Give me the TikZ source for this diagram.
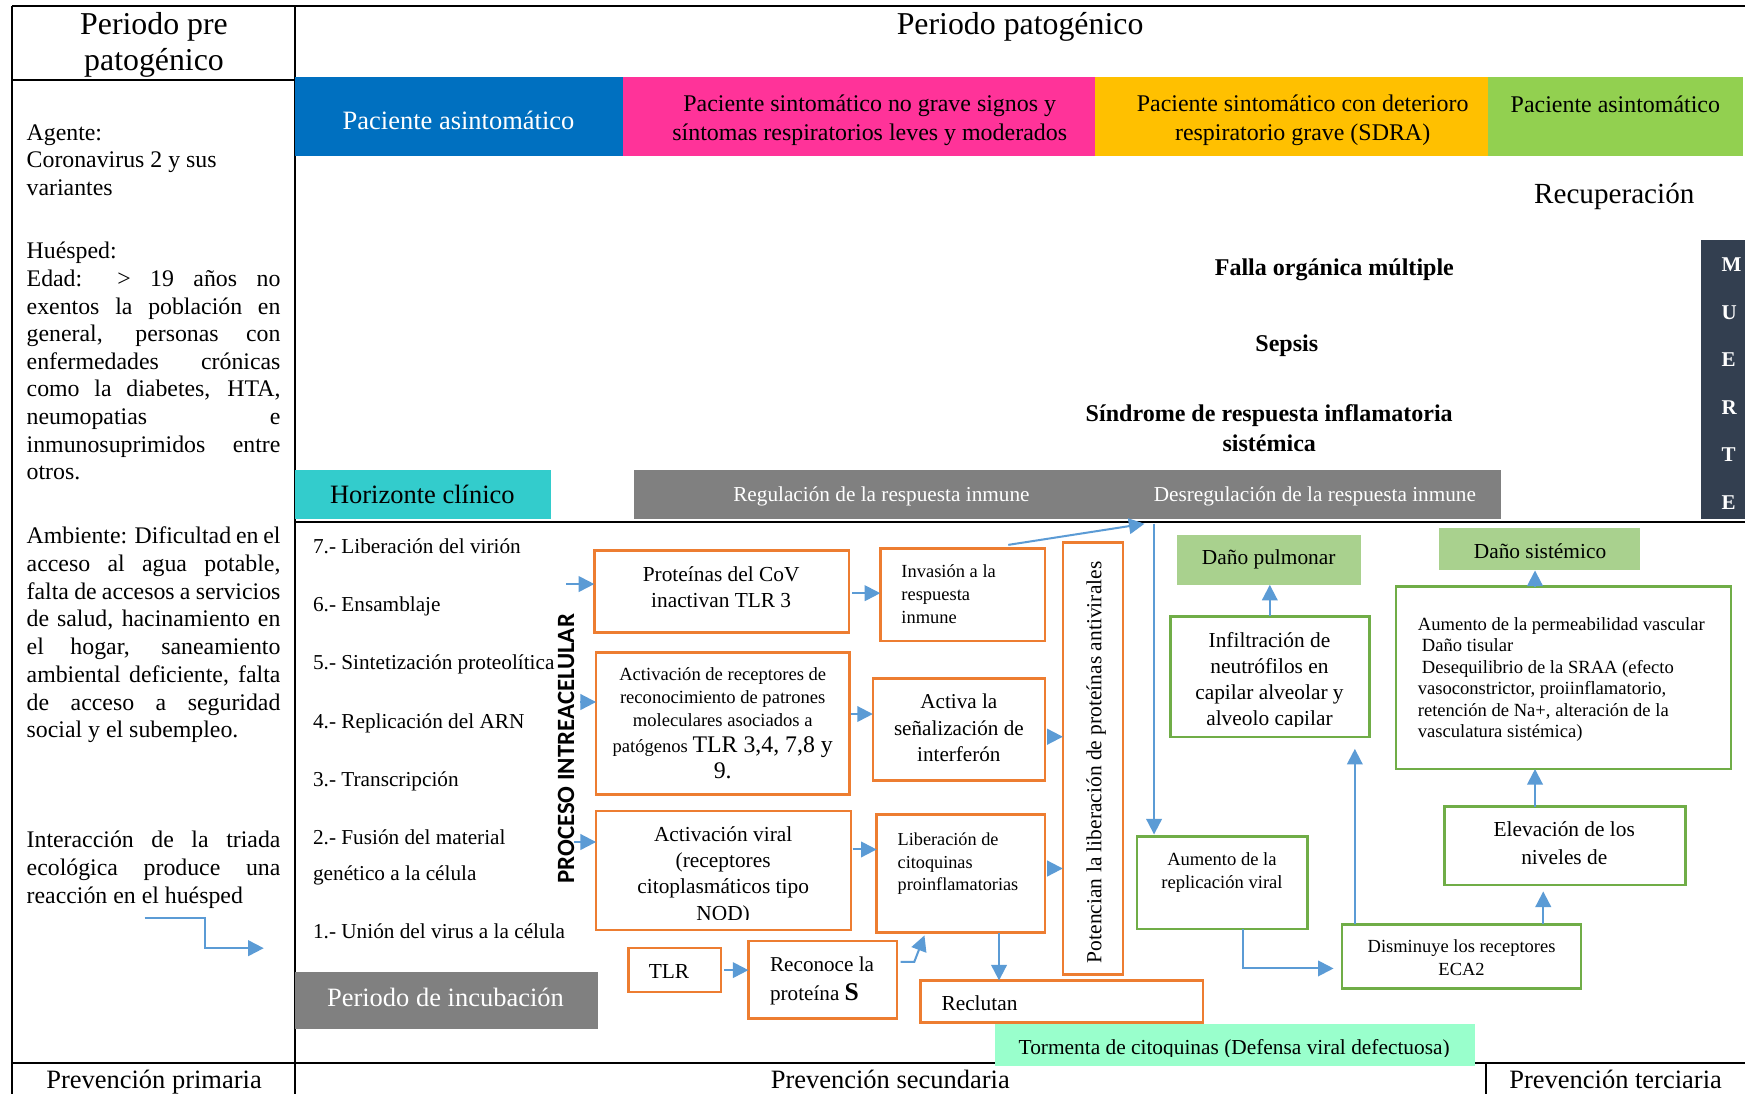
\documentclass[tikz,border=0pt]{standalone}
\usepackage{fontspec}
\setmainfont{Liberation Serif}
\newfontfamily\procfont{Carlito}
\usetikzlibrary{arrows.meta,fit,calc}

\definecolor{cBlue}{HTML}{0070C0}
\definecolor{cPink}{HTML}{FF3399}
\definecolor{cYellow}{HTML}{FFC000}
\definecolor{cGreen}{HTML}{92D050}
\definecolor{cCyan}{HTML}{33CCCC}
\definecolor{cGrey}{HTML}{808080}
\definecolor{cSlate}{HTML}{333F50}
\definecolor{cOrange}{HTML}{ED7D31}
\definecolor{cGreenLine}{HTML}{70AD47}
\definecolor{cGreenFill}{HTML}{A9D18E}
\definecolor{cMint}{HTML}{99FFCC}
\definecolor{cArrow}{HTML}{5B9BD5}

% block of lines: alignment, font size, line pitch, lines
\newcommand\tblk[4]{{\fontsize{#2}{#3}\selectfont\begin{tabular}[t]{@{}#1@{}}#4\end{tabular}}}
\newcommand\sz[1]{\fontsize{#1}{#1}\selectfont}
% justified line of the left column
\newcommand\jl[1]{\makebox[228pt][s]{#1}}

\begin{document}
\begin{tikzpicture}[x=1pt,y=-1pt,
  rule/.style={line width=1.8pt, black},
  band/.style={inner sep=0pt, outer sep=0pt, draw=none},
  obox/.style={draw=cOrange, line width=2.2pt, inner sep=0pt, outer sep=0pt},
  gbox/.style={draw=cGreenLine, line width=2.2pt, inner sep=0pt, outer sep=0pt},
  lbl/.style={inner sep=0pt, outer sep=0pt},
  arr/.style={draw=cArrow, line width=1.8pt, -{Triangle[length=14pt,width=14pt]}},
]
\useasboundingbox (0,0) rectangle (1568,983);
\fill[white] (0,0) rectangle (1568,983);

% ---------- table rules ----------
\draw[rule] (11,5) -- (1568,5);
\draw[rule] (11,5) -- (11,983);
\draw[rule] (265,5) -- (265,983);
\draw[rule] (11,72) -- (265,72);
\draw[rule] (265,469) -- (1568,469);
\draw[rule] (11,955.5) -- (1568,955.5);
\draw[rule] (1335,955.5) -- (1335,983);

% ---------- headers ----------
\node[lbl, anchor=base] (hPre) at (138.4,30.9) {\tblk{c}{28.6}{32.5}{Periodo pre\\patogénico}};
\node[lbl, anchor=base] (hPat) at (916.6,30.9) {\sz{28.6}Periodo patogénico};

% ---------- coloured stage bands ----------
\node[band, fill=cBlue, fit={(265,69.3) (559.7,139.9)}] (bBlue) {};
\node[band, fill=cPink, fit={(559.7,69.3) (984,139.9)}] (bPink) {};
\node[band, fill=cYellow, fit={(984,69.3) (1336.7,139.9)}] (bYellow) {};
\node[band, fill=cGreen, fit={(1336.7,69.3) (1566,139.9)}] (bGreen) {};
\node[lbl, anchor=base, text=white] (tBlue) at (412,116) {\sz{23.8}Paciente asintomático};
\node[lbl, anchor=base] (tPink) at (781.5,100.6) {\tblk{c}{21.5}{25.6}{Paciente sintomático no grave signos y\\síntomas respiratorios leves y moderados}};
\node[lbl, anchor=base] (tYellow) at (1170.5,100.6) {\tblk{c}{21.5}{25.6}{Paciente sintomático con deterioro\\respiratorio grave (SDRA)}};
\node[lbl, anchor=base] (tGreen) at (1451.5,101.5) {\sz{21.5}Paciente asintomático};

% ---------- outcomes ----------
\node[lbl, anchor=base] (rec) at (1450.5,183.2) {\sz{26.2}Recuperación};
\node[lbl, anchor=base] (falla) at (1199,247.5) {\sz{21.6}\bfseries Falla orgánica múltiple};
\node[lbl, anchor=base] (sepsis) at (1156.3,315.6) {\sz{21.6}\bfseries Sepsis};
\node[lbl, anchor=base] (sirs) at (1140.5,379) {\bfseries\tblk{c}{21.6}{27}{Síndrome de respuesta inflamatoria\\sistémica}};
\node[band, fill=cSlate, fit={(1528,215.7) (1568,466.6)}] (muerte) {};
\node[lbl, anchor=base west, text=white] (muerteT) at (1547,244.4) {\bfseries\tblk{l}{18.9}{42.6}{M\\U\\E\\R\\T\\E}};

% ---------- horizon band ----------
\node[band, fill=cCyan, fit={(265,422) (495,466.6)}] (horiz) {};
\node[lbl, anchor=base] (horizT) at (379.5,452.4) {\sz{23.8}Horizonte clínico};
\node[band, fill=cGrey, fit={(569.7,422) (1348.5,466.6)}] (regul) {};
\node[lbl, anchor=base, text=white] (regT) at (792,450.2) {\sz{19.1}Regulación de la respuesta inmune};
\node[lbl, anchor=base, text=white] (desT) at (1181.5,450.2) {\sz{19.1}Desregulación de la respuesta inmune};

% ---------- left column: ecological triad ----------
\node[lbl, anchor=base west] (agente) at (24,126.2) {\tblk{l}{21.4}{24.6}{Agente:\\Coronavirus 2 y sus\\variantes}};
\node[lbl, anchor=base west] (huesped) at (24,232.7) {\tblk{l}{21.4}{24.8}{Huésped:\\
\jl{Edad: > 19 años no}\\
\jl{exentos la población en}\\
\jl{general, personas con}\\
\jl{enfermedades crónicas}\\
\jl{como la diabetes, HTA,}\\
\jl{neumopatias e}\\
\jl{inmunosuprimidos entre}\\
otros.}};
\node[lbl, anchor=base west] (ambiente) at (24,488.6) {\tblk{l}{21.4}{24.9}{%
\jl{Ambiente: Dificultad en el}\\
\jl{acceso al agua potable,}\\
\jl{falta de accesos a servicios}\\
\jl{de salud, hacinamiento en}\\
\jl{el hogar, saneamiento}\\
\jl{ambiental deficiente, falta}\\
\jl{de acceso a seguridad}\\
social y el subempleo.}};
\node[lbl, anchor=base west] (interac) at (24,761.6) {\tblk{l}{21.4}{24.9}{%
\jl{Interacción de la triada}\\
\jl{ecológica produce una}\\
reacción en el huésped}};
\coordinate (lS) at (130,825);
\coordinate (lE) at (237,852);
\draw[arr] (lS) -- (184,825) -- (184,852) -- (lE);

% ---------- viral cycle steps ----------
\node[lbl, anchor=base west] (s7) at (281.3,497.5) {\sz{19.1}7.- Liberación del virión};
\node[lbl, anchor=base west] (s6) at (281.3,549.5) {\sz{19.1}6.- Ensamblaje};
\node[lbl, anchor=base west] (s5) at (281.3,601.4) {\sz{19.1}5.- Sintetización proteolítica};
\node[lbl, anchor=base west] (s4) at (281.3,654.2) {\sz{19.1}4.- Replicación del ARN};
\node[lbl, anchor=base west] (s3) at (281.3,706.3) {\sz{19.1}3.- Transcripción};
\node[lbl, anchor=base west] (s2) at (281.3,758.4) {\sz{19.1}2.- Fusión del material};
\node[lbl, anchor=base west] (s2b) at (281.3,791.2) {\sz{19.1}genético a la célula};
\node[lbl, anchor=base west] (s1) at (281.3,843.7) {\sz{19.1}1.- Unión del virus a la célula};
\node[lbl, anchor=base, rotate=90] (proc) at (515.8,672.8) {\procfont\bfseries\sz{22.3}PROCESO INTREACELULAR};

\node[band, fill=cGrey, fit={(265,873.5) (537,925)}] (incub) {};
\node[lbl, anchor=base, text=white] (incubT) at (400.3,904.7) {\sz{23.8}Periodo de incubación};

% ---------- immune response boxes ----------
\node[obox, fit={(534,494.6) (763,568.2)}] (A) {};
\node[lbl, anchor=base] (At) at (648,522.5) {\tblk{c}{19.2}{23.7}{Proteínas del CoV\\inactivan TLR 3}};
\node[obox, fit={(791,492.9) (939,575.8)}] (B) {};
\node[lbl, anchor=base west] (Bt) at (810,519.2) {\tblk{l}{16.6}{20.4}{Invasión a la\\respuesta\\inmune}};
\node[obox, fit={(955,487.6) (1009,875.7)}] (C) {};
\node[lbl, rotate=90] (Ct) at (985,685) {\sz{19.3}Potencian la liberación de proteínas antivirales};
\node[obox, fit={(535.6,586.3) (763.2,713.9)}] (D) {};
\node[lbl, anchor=base] (Dt) at (649.4,611.9) {\tblk{c}{16.7}{20.6}{Activación de receptores de\\reconocimiento de patrones\\moleculares asociados a\\[2.4pt]patógenos {\sz{21.4}TLR 3,4, 7,8 y}\\[2.4pt]{\sz{21.4}9.}}};
\node[obox, fit={(784.3,609.7) (939,701.4)}] (E) {};
\node[lbl, anchor=base] (Et) at (861.6,636.6) {\tblk{c}{19}{23.9}{Activa la\\señalización de\\interferón}};
\node[obox, fit={(535.6,728.7) (764.7,835.6)}] (F) {};
\begin{scope}
  \clip (536,729) rectangle (764,826);
  \node[lbl, anchor=base] (Ft) at (649.8,755.7) {\tblk{c}{19.2}{23.7}{Activación viral\\(receptores\\citoplasmáticos tipo\\NOD)}};
\end{scope}
\node[obox, fit={(787.7,732) (939,838)}] (G) {};
\node[lbl, anchor=base west] (Gt) at (806.6,760) {\tblk{l}{16.4}{20.2}{Liberación de\\citoquinas\\proinflamatorias}};
\node[obox, fit={(564.8,851.8) (647.7,891.4)}] (H) {};
\node[lbl, anchor=base west] (Ht) at (583,879.4) {\sz{19.2}TLR};
\node[obox, fit={(672.5,845.6) (806,915.2)}] (I) {};
\node[lbl, anchor=base west] (It) at (692,872.5) {\tblk{l}{19}{26.3}{Reconoce la\\proteína {\bfseries\sz{23}S}}};
\node[obox, fit={(827.2,881) (1081,918.8)}] (J) {};
\node[lbl, anchor=base west] (Jt) at (846,908) {\sz{19.2}Reclutan};

\node[band, fill=cMint, fit={(894,920.5) (1325,958)}] (storm) {};
\begin{scope}
  \clip (894,920.5) rectangle (1325,949.5);
  \node[lbl, anchor=base] (stormT) at (1109,947.4) {\sz{19.2}Tormenta de citoquinas (Defensa viral defectuosa)};
\end{scope}

% ---------- damage boxes ----------
\node[band, fill=cGreenFill, fit={(1057.6,481) (1222.7,525.5)}] (Dp) {};
\node[lbl, anchor=base] (DpT) at (1140,507.4) {\sz{19.2}Daño pulmonar};
\node[band, fill=cGreenFill, fit={(1293,474.4) (1474,512.6)}] (Ds) {};
\node[lbl, anchor=base] (DsT) at (1383.8,501.8) {\sz{19.2}Daño sistémico};
\node[gbox, fit={(1051.7,553.8) (1230.7,662.3)}] (Inf) {};
\begin{scope}
  \clip (1052,554) rectangle (1230,652.5);
  \node[lbl, anchor=base] (InfT) at (1140.7,581.7) {\tblk{c}{19.2}{23.5}{Infiltración de\\neutrófilos en\\capilar alveolar y\\alveolo capilar}};
\end{scope}
\node[gbox, fit={(1254.6,527) (1555.5,691)}] (Pm) {};
\node[lbl, anchor=base west] (PmT) at (1274,566.5) {\tblk{l}{16.7}{19.3}{Aumento de la permeabilidad vascular\\
\hspace*{3.7pt}Daño tisular\\
\hspace*{3.7pt}Desequilibrio de la SRAA (efecto\\
vasoconstrictor, proiinflamatorio,\\
retención de Na+, alteración de la\\
vasculatura sistémica)}};
\node[gbox, fit={(1297.8,724.8) (1514.5,795.2)}] (El) {};
\node[lbl, anchor=base] (ElT) at (1405.6,751.7) {\tblk{c}{19.2}{24.7}{Elevación de los\\niveles de}};
\node[gbox, fit={(1021.5,751.8) (1174.8,834.7)}] (R) {};
\node[lbl, anchor=base] (RT) at (1098,778) {\tblk{c}{16.7}{20.5}{Aumento de la\\replicación viral}};
\node[gbox, fit={(1206,830.7) (1420.6,888.2)}] (Dm) {};
\node[lbl, anchor=base] (DmT) at (1313.3,856.3) {\tblk{c}{16.6}{20.4}{Disminuye los receptores\\ECA2}};

% ---------- connectors ----------
\coordinate (inA) at (509,524.8);
\coordinate (inD) at (521,630.8);
\coordinate (inF) at (515.8,756.6);
\draw[arr] (inA) -- (A.west |- inA);
\draw[arr] (inD) -- (D.west |- inD);
\draw[arr] (inF) -- (F.west |- inF);
\draw[arr] ([xshift=3pt]A.east |- 0,533) -- (B.west |- 0,533);
\draw[arr] ([xshift=1.5pt]D.east |- 0,641.6) -- (E.west |- 0,641.6);
\draw[arr] ([xshift=1.5pt]F.east |- 0,763.3) -- (G.west |- 0,763.3);
\draw[arr] ([xshift=2pt]E.east |- 0,662) -- (C.west |- 0,662);
\draw[arr] ([xshift=2pt]G.east |- 0,780.4) -- (C.west |- 0,780.4);
\draw[arr] ([xshift=3pt]H.east |- 0,871.7) -- (I.west |- 0,871.7);
\draw[arr] ([xshift=3.3pt]I.east |- 0,864.4) -- (821.5,864.4) -- ($(G.south west)+(43,2.5)$);
\draw[arr] (G.south -| 897.7,0) -- (J.north -| 897.7,0);
\coordinate (jn) at (1037,470.6);
\draw[arr] ($(B.north)+(41,-3.3)$) -- ([xshift=-8.6pt]jn);
\draw[arr, shorten >=2pt] (jn) -- (R.north -| jn);
\draw[arr, shorten >=7.7pt] (R.south -| 1116.7,0) -- (1116.7,870.2) -- (Dm.west |- 0,870.2);
\draw[arr, shorten >=10.6pt] (Dm.north -| 1217.4,0) -- (Inf.south -| 1217.4,0);
\draw[arr, shorten >=5.8pt] (Dm.north -| 1386.7,0) -- (El.south -| 1386.7,0);
\draw[arr] (El.north -| 1379.3,0) -- (Pm.south -| 1379.3,0);
\draw[arr] (Pm.north -| 1379.3,0) -- (Ds.south -| 1379.3,0);
\draw[arr] (Inf.north -| 1141,0) -- (Dp.south -| 1141,0);

% ---------- prevention levels ----------
\node[lbl, anchor=base] (prev1) at (138.4,978.5) {\sz{23.8}Prevención primaria};
\node[lbl, anchor=base] (prev2) at (800,978.5) {\sz{23.8}Prevención secundaria};
\node[lbl, anchor=base] (prev3) at (1451.7,978.5) {\sz{23.8}Prevención terciaria};
\end{tikzpicture}
\end{document}
